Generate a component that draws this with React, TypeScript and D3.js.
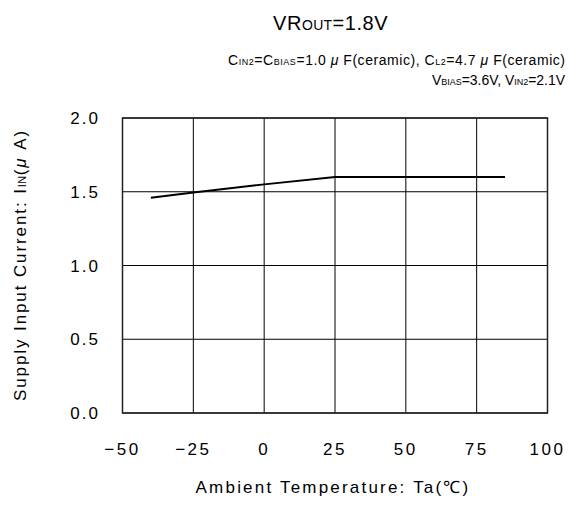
import React from "react";
import * as d3 from "d3";

const temps = [-40, -25, 0, 25, 50, 75, 85];
const currents = [1.46, 1.495, 1.55, 1.6, 1.6, 1.6, 1.6];
const xTicks = [-50, -25, 0, 25, 50, 75, 100];
const yTicks = [0, 0.5, 1.0, 1.5, 2.0];

const W = 568, H = 508;
const M = { left: 122.5, right: 547.5, top: 118, bottom: 413 };
const FONT = "'Liberation Sans', Arial, sans-serif";

export default function App() {
  const x = d3.scaleLinear().domain([-50, 100]).range([M.left, M.right]);
  const y = d3.scaleLinear().domain([0, 2]).range([M.bottom, M.top]);
  const line = d3.line<number>().x((d, i) => x(temps[i])).y((d) => y(d));
  const fmtMinus = (v: number) => (v < 0 ? "\u2212" + Math.abs(v) : String(v));

  return (
    <svg width={W} height={H} style={{ position: "absolute", left: 0, top: 0, background: "#fff" }} fontFamily={FONT}>
      <rect x={0} y={0} width={W} height={H} fill="#fff" />
      {xTicks.map((t) => (
        <line key={"gx" + t} x1={x(t)} x2={x(t)} y1={M.top} y2={M.bottom} stroke="#000" strokeWidth={1} />
      ))}
      {yTicks.map((t) => (
        <line key={"gy" + t} x1={M.left} x2={M.right} y1={y(t)} y2={y(t)} stroke="#000" strokeWidth={1} />
      ))}
      <rect x={M.left} y={M.top} width={M.right - M.left} height={M.bottom - M.top} fill="none" stroke="#222" strokeWidth={1.5} />
      <path d={line(currents) || ""} fill="none" stroke="#000" strokeWidth={2} />
      {yTicks.map((t) => (
        <text key={"yl" + t} x={100} y={y(t) + 6} textAnchor="end" fontSize={17} letterSpacing={2} fill="#000">
          {t.toFixed(1)}
        </text>
      ))}
      {xTicks.map((t) => (
        <text key={"xl" + t} x={x(t)} y={455} textAnchor="middle" fontSize={17} letterSpacing={2.5} fill="#000">
          {fmtMinus(t)}
        </text>
      ))}
      <text x={333} y={493} textAnchor="middle" fontSize={17} letterSpacing={2.2} fill="#000">
        Ambient Temperature: Ta(℃)
      </text>
      <text transform="translate(26,265) rotate(-90)" textAnchor="middle" fontSize={17} letterSpacing={1.9} fill="#000">
        Supply Input Current: I<tspan fontSize={11} letterSpacing={0.5}>IN</tspan>(<tspan fontStyle="italic">μ</tspan> A)
      </text>
      <text x={273} y={30} fontSize={20} letterSpacing={0.6} fill="#000">
        VR<tspan fontSize={14} letterSpacing={0.3}>OUT</tspan>=1.8V
      </text>
      <text x={228} y={65} fontSize={14} textLength={337} lengthAdjust="spacing" fill="#000">
        C<tspan fontSize={9}>IN2</tspan>=C<tspan fontSize={9}>BIAS</tspan>=1.0 <tspan fontStyle="italic">μ</tspan> F(ceramic), C<tspan fontSize={9}>L2</tspan>=4.7 <tspan fontStyle="italic">μ</tspan> F(ceramic)
      </text>
      <text x={432} y={85} fontSize={14} textLength={133} lengthAdjust="spacing" fill="#000">
        V<tspan fontSize={9}>BIAS</tspan>=3.6V, V<tspan fontSize={9}>IN2</tspan>=2.1V
      </text>
    </svg>
  );
}
